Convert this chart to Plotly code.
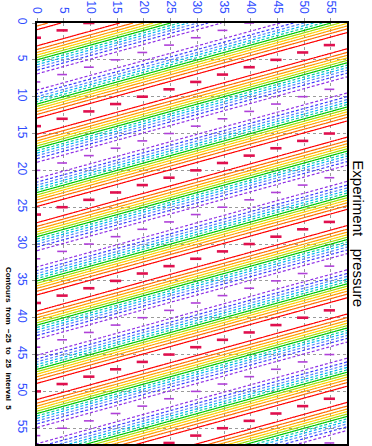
import numpy as np
import plotly.graph_objects as go

# ---- values ----
col_x = [0, 5, 10, 15, 20, 25, 30, 35, 40, 45, 50, 55]          # marker columns
ridge_y = [14, 13, 12, 11, 10, 9, 8, 7, 6, 5, 4, 3]             # first high centre per column
period_y = 12.0                                                 # distance between highs along y
amplitude = 29.8                                                # peak value of the field
levels = [-25, -20, -15, -10, -5, 0, 5, 10, 15, 20, 25]
level_colors = ["#8f2ee6", "#3c3cff", "#4f86ff", "#00b8f0", "#00cfa0",
                "#00c800", "#9ee000", "#ffd000", "#ffa000", "#ff6a00", "#ff0000"]
tick_vals = [0, 5, 10, 15, 20, 25, 30, 35, 40, 45, 50, 55]
title_text = "Experiment   pressure"
info_text = "Contours  from  \u221225  to  25  interval  5"

# ---- field built from the read ridge positions ----
xs = np.linspace(0, 58, 233)
ys = np.linspace(0, 58, 581)
slope = (ridge_y[-1] - ridge_y[0]) / (col_x[-1] - col_x[0])
ridge_at_x = np.interp(xs, col_x, ridge_y)
ridge_at_x = np.where(xs > col_x[-1], ridge_y[-1] + slope * (xs - col_x[-1]), ridge_at_x)
X, Y = np.meshgrid(xs, ys)
R = np.tile(ridge_at_x, (len(ys), 1))
Z = amplitude * np.cos(2 * np.pi * (Y - R) / period_y)

fig = go.Figure()
for lev, col in zip(levels, level_colors):
    fig.add_trace(go.Contour(
        x=xs, y=ys, z=Z, autocontour=False,
        contours=dict(start=lev, end=lev + 0.5, size=1, coloring="none", showlabels=False),
        line=dict(color=col, width=1.2, dash="3px,2px" if lev < 0 else "solid", smoothing=1),
        showscale=False, hoverinfo="skip"))

# high / low markers
hx, hy, lx, ly = [], [], [], []
for cx, ry in zip(col_x, ridge_y):
    for k in range(-2, 7):
        h = ry + k * period_y
        l = ry + (k + 0.5) * period_y
        if -0.5 <= h <= 58:
            hx.append(cx - 0.3); hy.append(h)
        if -0.5 <= l <= 58:
            lx.append(cx - 0.3); ly.append(l)
fig.add_trace(go.Scatter(x=hx, y=hy, mode="markers", hoverinfo="skip",
                         marker=dict(symbol="line-ew", size=8, line=dict(color="#e0104f", width=2.6))))
fig.add_trace(go.Scatter(x=lx, y=ly, mode="markers", hoverinfo="skip",
                         marker=dict(symbol="line-ew", size=7, line=dict(color="#b040d8", width=1.6))))

axis_common = dict(
    tickvals=tick_vals, ticktext=[str(v) for v in tick_vals], tickangle=90,
    tickfont=dict(family="Liberation Sans", size=12, color="#2f4cff"),
    showgrid=True, gridcolor="#9a9a9a", griddash="dot", gridwidth=1,
    zeroline=False, showline=True, linecolor="black", linewidth=2, mirror=True,
    ticks="outside", ticklen=3, tickcolor="#9a9a9a")

fig.update_layout(
    width=372, height=446, margin=dict(l=37, r=25, t=22, b=0),
    paper_bgcolor="white", plot_bgcolor="white", showlegend=False,
    xaxis=dict(range=[0, 58], side="top", **axis_common),
    yaxis=dict(range=[57.14, 0], **axis_common),
    annotations=[
        dict(text=title_text, xref="paper", yref="paper", x=1.036, y=0.50,
             showarrow=False, textangle=90, xanchor="center", yanchor="middle",
             font=dict(family="Liberation Sans", size=15, color="black")),
        dict(text=info_text, xref="paper", yref="paper", x=-0.094, y=0.25,
             showarrow=False, textangle=90, xanchor="center", yanchor="middle",
             font=dict(family="Liberation Sans", size=8, color="black", weight="bold")),
    ])

fig.write_html("out.html")
